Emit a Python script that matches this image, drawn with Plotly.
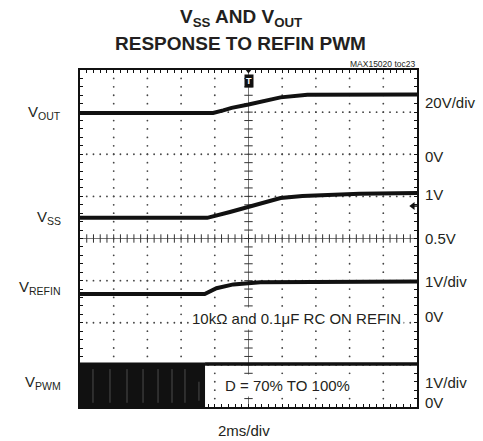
import numpy as np
import plotly.graph_objects as go

# ---- data (x in ms, y in screen divisions 0..8) ----
vout_t = [0, 7.9, 8.5, 9.0, 10.0, 10.7, 11.9, 13.5, 16.0, 20.0]
vout_v = [6.98, 6.98, 7.04, 7.10, 7.18, 7.24, 7.35, 7.41, 7.42, 7.42]

vss_t = [0, 7.55, 8.9, 10.0, 10.7, 11.9, 13.2, 14.8, 16.6, 20.0]
vss_v = [4.49, 4.49, 4.63, 4.75, 4.85, 4.96, 5.01, 5.04, 5.06, 5.08]

vrefin_t = [0, 7.4, 8.1, 9.1, 10.7, 13.0, 20.0]
vrefin_v = [2.68, 2.68, 2.82, 2.91, 2.96, 2.97, 2.98]

pwm_burst_t = [0, 7.42]
pwm_burst_v = [1.02, 1.02]
pwm_full_t = [7.42, 20.0]
pwm_full_v = [1.02, 1.02]
pwm_gap_t = [0.77, 1.78, 2.79, 3.74, 4.63, 5.46, 6.23, 7.06]
pwm_gap_lo = [0.1, 0.1, 0.1, 0.1, 0.1, 0.1, 0.1, 0.15]
pwm_gap_hi = [0.9, 0.9, 0.9, 0.9, 0.9, 0.9, 0.9, 0.6]

left_labels = ["V<sub>OUT</sub>", "V<sub>SS</sub>", "V<sub>REFIN</sub>", "V<sub>PWM</sub>"]
left_label_y = [6.98, 4.49, 2.83, 0.57]
right_labels = ["20V/div", "0V", "1V", "0.5V", "1V/div", "0V", "1V/div", "0V"]
right_label_y = [7.24, 5.94, 5.04, 4.01, 2.97, 2.14, 0.57, 0.10]

FONT = "Arial, Liberation Sans, sans-serif"
INK = "#231f20"

fig = go.Figure()

# grid dots
gx, gy = [], []
for xv in [2, 4, 6, 8, 12, 14, 16, 18]:
    for yv in np.arange(0.2, 8.0, 0.2):
        gx.append(xv); gy.append(yv)
for yv in [1, 2, 3, 5, 6, 7]:
    for xv in np.arange(0.4, 20.0, 0.4):
        gx.append(xv); gy.append(yv)
fig.add_trace(go.Scatter(x=gx, y=gy, mode="markers",
                         marker=dict(size=1.8, color="#444444"), hoverinfo="skip"))

# center lines with ticks
fig.add_trace(go.Scatter(x=[0, 20], y=[4, 4], mode="lines",
                         line=dict(color="#555555", width=0.8), hoverinfo="skip"))
fig.add_trace(go.Scatter(x=[10, 10], y=[0, 8], mode="lines",
                         line=dict(color="#555555", width=0.8), hoverinfo="skip"))
cx = list(np.arange(0.4, 20.0, 0.4))
fig.add_trace(go.Scatter(x=cx, y=[4] * len(cx), mode="markers",
                         marker=dict(symbol="line-ns", size=6, line=dict(width=1, color="#333333")),
                         hoverinfo="skip"))
cy = list(np.arange(0.2, 8.0, 0.2))
fig.add_trace(go.Scatter(x=[10] * len(cy), y=cy, mode="markers",
                         marker=dict(symbol="line-ew", size=6, line=dict(width=1, color="#333333")),
                         hoverinfo="skip"))

# PWM burst fill
fig.add_trace(go.Scatter(x=pwm_burst_t, y=pwm_burst_v, mode="lines", fill="tozeroy",
                         fillcolor="#111111", line=dict(color="#111111", width=3), hoverinfo="skip"))
for t, lo, hi in zip(pwm_gap_t, pwm_gap_lo, pwm_gap_hi):
    fig.add_trace(go.Scatter(x=[t, t], y=[lo, hi], mode="lines",
                             line=dict(color="#5a5a5a", width=0.8), hoverinfo="skip"))
fig.add_trace(go.Scatter(x=pwm_full_t, y=pwm_full_v, mode="lines",
                         line=dict(color="#111111", width=3.5), hoverinfo="skip"))

# signal traces
for t, v in [(vout_t, vout_v), (vss_t, vss_v), (vrefin_t, vrefin_v)]:
    fig.add_trace(go.Scatter(x=t, y=v, mode="lines", line=dict(color="#111111", width=4),
                             hoverinfo="skip"))

# trigger marker
fig.add_trace(go.Scatter(x=[10], y=[8], mode="markers", cliponaxis=False,
                         marker=dict(symbol="triangle-down", size=7, color="#111111"),
                         hoverinfo="skip"))
# ground arrow on right edge
fig.add_trace(go.Scatter(x=[19.75], y=[4.77], mode="markers", cliponaxis=False,
                         marker=dict(symbol="triangle-left", size=7, color="#111111"),
                         hoverinfo="skip"))
fig.add_trace(go.Scatter(x=[19.75, 20], y=[4.77, 4.77], mode="lines",
                         line=dict(color="#111111", width=1.5), hoverinfo="skip"))

annotations = []
annotations.append(dict(x=10, y=8, xref="x", yref="y", text="<b>T</b>", showarrow=False,
                        yanchor="top", yshift=-4, bgcolor="#111111", borderpad=1,
                        font=dict(family=FONT, size=9, color="white")))

for txt, yv in zip(left_labels, left_label_y):
    annotations.append(dict(x=0, y=yv, xref="paper", yref="y", text=txt, showarrow=False,
                            xanchor="right", xshift=-17,
                            font=dict(family=FONT, size=15, color=INK)))
for txt, yv in zip(right_labels, right_label_y):
    annotations.append(dict(x=1, y=yv, xref="paper", yref="y", text=txt, showarrow=False,
                            xanchor="left", xshift=6,
                            font=dict(family=FONT, size=15, color=INK)))

annotations.append(dict(x=12.85, y=2.11, xref="x", yref="y",
                        text="10k\u03a9 and 0.1\u03bcF RC ON REFIN", showarrow=False,
                        bgcolor="white", borderpad=2,
                        font=dict(family=FONT, size=15, color=INK)))
annotations.append(dict(x=12.3, y=0.52, xref="x", yref="y",
                        text="D = 70% TO 100%", showarrow=False,
                        bgcolor="white", borderpad=2,
                        font=dict(family=FONT, size=15, color=INK)))
annotations.append(dict(x=10, y=(407 - 430) / 337, xref="x", yref="paper", text="2ms/div",
                        showarrow=False, yanchor="middle", xshift=-5,
                        font=dict(family=FONT, size=15, color=INK)))
annotations.append(dict(x=1, y=(407 - 64) / 337, xref="paper", yref="paper",
                        text="MAX15020 toc23", showarrow=False, xanchor="right",
                        yanchor="middle",
                        font=dict(family=FONT, size=8.5, color=INK)))
annotations.append(dict(x=0.5, y=(407 - 18) / 337, xref="paper", yref="paper",
                        text="<b>V<sub>SS</sub> AND V<sub>OUT</sub></b>", showarrow=False,
                        xanchor="center", yanchor="middle", xshift=-8,
                        font=dict(family=FONT, size=19, color=INK)))
annotations.append(dict(x=0.5, y=(407 - 43) / 337, xref="paper", yref="paper",
                        text="<b>RESPONSE TO REFIN PWM</b>", showarrow=False,
                        xanchor="center", yanchor="middle", xshift=-8,
                        font=dict(family=FONT, size=19, color=INK)))

fig.update_layout(
    width=483, height=441,
    margin=dict(l=80, r=66, t=70, b=34),
    paper_bgcolor="white", plot_bgcolor="white",
    showlegend=False,
    annotations=annotations,
    xaxis=dict(range=[0, 20], showgrid=False, zeroline=False, showticklabels=False,
               showline=True, linewidth=2, linecolor="#111111", mirror="ticks",
               ticks="inside", ticklen=3, tickcolor="#111111", dtick=0.4, tick0=0),
    yaxis=dict(range=[0, 8], showgrid=False, zeroline=False, showticklabels=False,
               showline=True, linewidth=2, linecolor="#111111", mirror="ticks",
               ticks="inside", ticklen=3, tickcolor="#111111", dtick=0.2, tick0=0),
)

fig.write_html("out.html", config={"displayModeBar": False},
               post_script="document.body.style.margin='0';document.body.style.padding='0';")
